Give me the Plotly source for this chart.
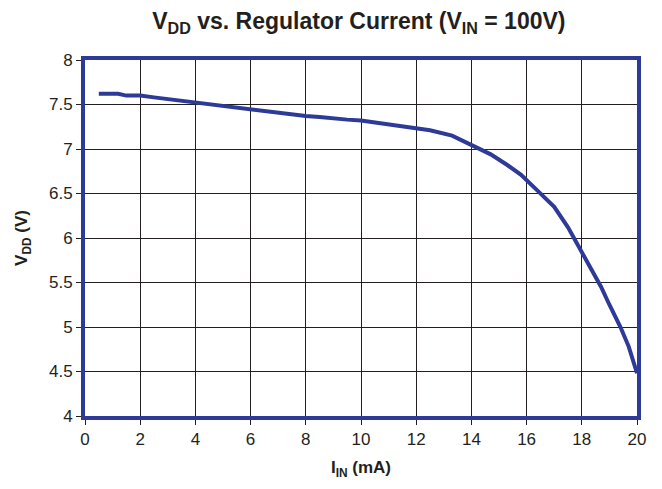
import plotly.graph_objects as go

current_ma = [0.5, 1.2, 1.5, 2.0, 2.5, 3.0, 3.5, 4.0, 4.5, 5.0, 5.5, 6.0, 6.5, 7.0, 7.5, 8.0,
              8.5, 9.0, 9.5, 10.0, 10.5, 11.0, 11.5, 12.0, 12.5, 13.3, 14.0, 14.7, 15.3,
              15.8, 16.3, 17.0, 17.5, 17.9, 18.3, 18.7, 19.0, 19.4, 19.7, 20.0]
vdd = [7.62, 7.62, 7.60, 7.60, 7.58, 7.56, 7.55, 7.52, 7.50, 7.48, 7.47, 7.44, 7.42, 7.41,
       7.39, 7.37, 7.36, 7.34, 7.33, 7.32, 7.30, 7.28, 7.26, 7.24, 7.21, 7.15, 7.05, 6.94,
       6.82, 6.71, 6.56, 6.35, 6.12, 5.90, 5.68, 5.45, 5.25, 5.00, 4.78, 4.48]

x_ticks = list(range(0, 21, 2))
y_ticks = [4, 4.5, 5, 5.5, 6, 6.5, 7, 7.5, 8]
y_tick_text = ["4", "4.5", "5", "5.5", "6", "6.5", "7", "7.5", "8"]

blue = "#2E3A97"
ink = "#231F20"
font = "Liberation Sans, Arial, sans-serif"

fig = go.Figure()
fig.add_trace(go.Scatter(x=current_ma, y=vdd, mode="lines",
                         line=dict(color=blue, width=4), showlegend=False))

fig.update_layout(
    width=662, height=489,
    margin=dict(l=77, r=33, t=52, b=81),
    paper_bgcolor="white", plot_bgcolor="white",
    font=dict(family=font, size=16, color=ink),
    title=dict(text="<b>V<sub>DD</sub> vs. Regulator Current (V<sub>IN</sub> = 100V)</b>",
               x=0.53, xanchor="center", y=0.974, yanchor="middle",
               font=dict(size=23, family=font, color=ink)),
)
fig.update_xaxes(
    range=[0, 20], tickvals=x_ticks, ticks="outside", ticklen=5, tickcolor=ink,
    showgrid=True, gridcolor=ink, gridwidth=1,
    showline=True, linecolor=blue, linewidth=4, mirror=True,
    zeroline=False, tickfont=dict(size=17),
    title=dict(text="<b>I<sub>IN</sub> (mA)</b>", font=dict(size=17), standoff=14),
)
fig.update_yaxes(
    range=[4, 8], tickvals=y_ticks, ticktext=y_tick_text, ticks="outside", ticklen=5,
    tickcolor=ink,
    showgrid=True, gridcolor=ink, gridwidth=1,
    showline=True, linecolor=blue, linewidth=4, mirror=True,
    zeroline=False, tickfont=dict(size=17),
    title=dict(text="<b>V<sub>DD</sub> (V)</b>", font=dict(size=17), standoff=18),
)

fig.write_html("out.html")
